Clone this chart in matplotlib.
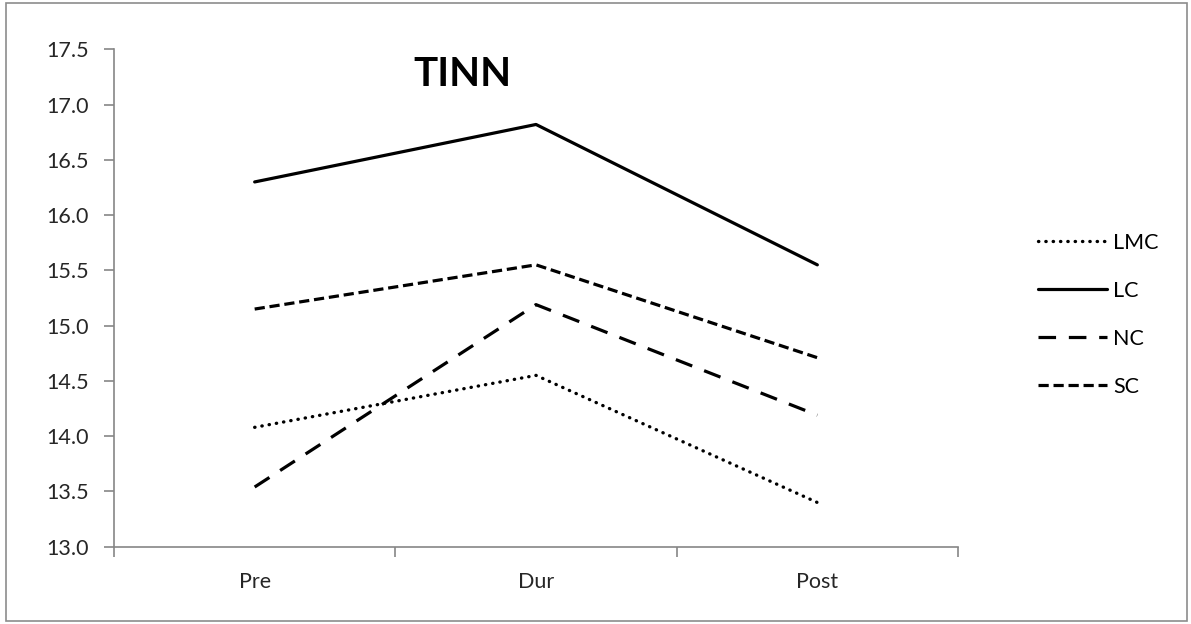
import matplotlib
matplotlib.use('Agg')
import matplotlib.pyplot as plt
from matplotlib.patches import Rectangle

plt.rcParams['font.family'] = ['Lato', 'DejaVu Sans']

# Data
phases = ['Pre', 'Dur', 'Post']
lmc = [14.08, 14.55, 13.40]
lc = [16.30, 16.82, 15.55]
nc = [13.54, 15.19, 14.19]
sc = [15.15, 15.55, 14.71]
yticks = [13.0, 13.5, 14.0, 14.5, 15.0, 15.5, 16.0, 16.5, 17.0, 17.5]

fig = plt.figure(figsize=(11.91, 6.24), dpi=100)
ax = fig.add_axes([114 / 1191, 1 - 546.7 / 624, (958 - 114) / 1191, (546.7 - 49.3) / 624])

x = list(range(len(phases)))
ax.plot(x, lmc, color='black', lw=2.4, dashes=(0.1, 2.1), dash_capstyle='round', label='LMC')
ax.plot(x, lc, color='black', lw=2.3, solid_capstyle='round', label='LC')
ax.plot(x, nc, color='black', lw=2.3, dashes=(5.5, 4.0), label='NC')
ax.plot(x, sc, color='black', lw=2.3, dashes=(3.2, 1.5), label='SC')

ax.set_xlim(-0.5, 2.5)
ax.set_ylim(13.0, 17.5)
ax.set_yticks(yticks)
ax.set_yticklabels([f'{v:.1f}' for v in yticks])
ax.set_xticks(x)
ax.set_xticklabels(phases)
ax.set_xticks([-0.5, 0.5, 1.5, 2.5], minor=True)

gray = '#868686'
for s in ['top', 'right']:
    ax.spines[s].set_visible(False)
for s in ['left', 'bottom']:
    ax.spines[s].set_color(gray)
    ax.spines[s].set_linewidth(1.2)

ax.tick_params(axis='y', length=7, width=1.2, color=gray, labelsize=15.5, labelcolor='#262626', pad=11)
ax.tick_params(axis='x', which='major', length=0, labelsize=15.5, labelcolor='#262626', pad=18)
ax.tick_params(axis='x', which='minor', length=7, width=1.2, color=gray)

fig.text(462 / 1191, 1 - 75 / 624, 'TINN', fontsize=29, fontweight='bold',
         ha='center', va='center', color='black')

ax.legend(loc='upper left', bbox_to_anchor=(1027 / 1191, 1 - 222 / 624),
          bbox_transform=fig.transFigure, frameon=False, fontsize=15.5,
          handlelength=3.2, handletextpad=0.3, labelspacing=1.3, borderpad=0)

fig.patches.append(Rectangle((6 / 1191, 3 / 624), 1181 / 1191, 618 / 624,
                             transform=fig.transFigure, fill=False,
                             edgecolor='#8c8c8c', linewidth=1.2))

fig.savefig('out.png', dpi=100)
